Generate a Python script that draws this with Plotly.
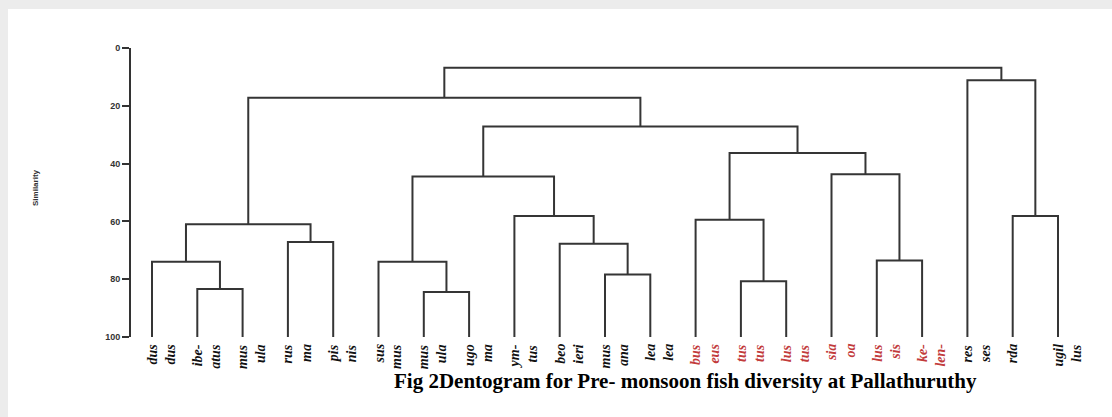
import plotly.graph_objects as go

# ---------------- data ----------------
leaf_label_a = ["dus", "ibe-", "mus", "rus", "pis", "sus", "mus", "ugo", "ym-", "beo", "mus",
                "lea", "bus", "tus", "lus", "sia", "lus", "ke-", "res", "rda", "ugil"]
leaf_label_b = ["dus", "atus", "ula", "ma", "nis", "mus", "ula", "ma", "tus", "ieri", "ana",
                "lea", "eus", "tus", "tus", "oa", "sis", "len-", "ses", "", "lus"]
red_leaves = [12, 13, 14, 15, 16, 17]

# merges (node ids: leaves 0..20, merged nodes 21.. in order)
merge_left = [1, 0, 3, 22, 6, 5, 10, 9, 8, 26, 13, 12, 16, 15, 32, 30, 24, 19, 18, 37]
merge_right = [2, 21, 4, 23, 7, 25, 11, 27, 28, 29, 14, 31, 17, 33, 34, 35, 36, 20, 38, 39]
merge_height = [83.4, 74.0, 67.1, 61.0, 84.4, 74.0, 78.4, 67.7, 58.1, 44.5, 80.7, 59.4,
                73.5, 43.7, 36.3, 27.2, 17.2, 58.1, 11.2, 6.8]
leaf_height = 100

y_ticks = [0, 20, 40, 60, 80, 100]
caption = "Fig 2Dentogram for Pre- monsoon fish diversity at Pallathuruthy"
y_title = "Similarity"

# ---------------- build dendrogram segments ----------------
n_leaves = len(leaf_label_a)
node_x = {i: float(i) for i in range(n_leaves)}
node_h = {i: float(leaf_height) for i in range(n_leaves)}
xs, ys = [], []
for k, (a, b, h) in enumerate(zip(merge_left, merge_right, merge_height)):
    nid = n_leaves + k
    xa, xb = node_x[a], node_x[b]
    xs += [xa, xa, xb, xb, None]
    ys += [node_h[a], h, h, node_h[b], None]
    node_x[nid] = (xa + xb) / 2
    node_h[nid] = h

fig = go.Figure()
fig.add_trace(go.Scatter(x=xs, y=ys, mode="lines",
                         line=dict(color="#353535", width=2),
                         hoverinfo="skip", showlegend=False))

W, H = 1112, 417
ML, MR, MT, MB = 131, 12, 48, 80
pw = W - ML - MR
ph = H - MT - MB
px_per_leaf = 45.3
x0 = -(152 - ML) / px_per_leaf
x1 = x0 + pw / px_per_leaf

annotations = []
for i in range(n_leaves):
    col = "#c23b3b" if i in red_leaves else "#111111"
    for txt, shift in ((leaf_label_a[i], 0), (leaf_label_b[i], 18)):
        if not txt:
            continue
        annotations.append(dict(
            x=i, xref="x", y=0, yref="paper", yanchor="top", xanchor="center",
            yshift=-5, xshift=shift, text=txt, showarrow=False, textangle=-90,
            font=dict(family="Liberation Serif", size=14, color=col,
                      style="italic", weight="bold")))

annotations.append(dict(
    x=(685 - ML) / pw, xref="paper", y=(MT + ph - 381) / ph, yref="paper",
    xanchor="center", yanchor="middle", text=caption, showarrow=False,
    font=dict(family="Liberation Serif", size=21, color="#000000", weight="bold")))

annotations.append(dict(
    x=(35 - ML) / pw, xref="paper", y=(MT + ph - 188) / ph, yref="paper",
    xanchor="center", yanchor="middle", text=y_title, showarrow=False, textangle=-90,
    font=dict(family="Liberation Sans", size=8, color="#333333", weight="bold")))

shapes = [dict(type="rect", xref="paper", yref="paper", layer="below",
               x0=(8 - ML) / pw, x1=(W + 5 - ML) / pw,
               y0=(MT + ph - (H + 5)) / ph, y1=(MT + ph - 9) / ph,
               fillcolor="white", line=dict(width=0))]

fig.update_layout(
    width=W, height=H,
    margin=dict(l=ML, r=MR, t=MT, b=MB, pad=0),
    paper_bgcolor="#ececec", plot_bgcolor="white",
    showlegend=False,
    xaxis=dict(visible=False, range=[x0, x1]),
    yaxis=dict(range=[100, 0], tickvals=y_ticks, ticks="outside", ticklen=7,
               tickwidth=2, tickcolor="#333333", showline=True, linecolor="#333333",
               linewidth=2, showgrid=False, zeroline=False,
               tickfont=dict(family="Liberation Sans", size=9, color="#333333", weight="bold")),
    annotations=annotations, shapes=shapes,
)

fig.write_html("out.html", config={"displayModeBar": False},
               post_script="document.body.style.margin='0';document.body.style.overflow='hidden';")
